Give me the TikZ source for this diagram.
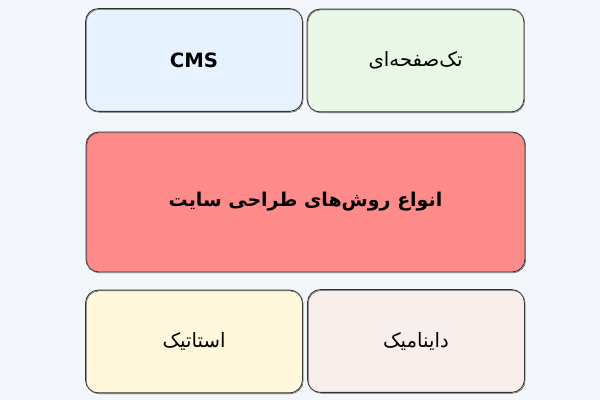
\documentclass[tikz,border=0pt]{standalone}
\usepackage{fontspec}
\setmainfont{DejaVu Sans}
\newfontfamily\arabicfont[Script=Arabic]{DejaVu Sans}
\TeXXeTstate=1
\usepackage{tikz}
\usetikzlibrary{positioning}
\definecolor{bgcol}{HTML}{F3F6FA}
\definecolor{cmscol}{HTML}{E6F2FF}
\definecolor{onecol}{HTML}{E9F8E6}
\definecolor{maincol}{HTML}{FF8A8A}
\definecolor{staticcol}{HTML}{FFF8DC}
\definecolor{dyncol}{HTML}{F8EFEC}
\definecolor{edgecol}{HTML}{2E2E2E}

\begin{document}
\begin{tikzpicture}[x=0.025cm, y=-0.025cm,
  card/.style = {draw=edgecol, line width=0.6pt, rounded corners=0.32cm,
    minimum width=5.42cm, minimum height=2.57cm, font=\fontsize{14}{17}\selectfont,
    postaction={draw=edgecol!75, line width=0.4pt, rounded corners=0.36cm,
      transform canvas={shift={(0.5pt,-0.6pt)}}}},
  bigcard/.style = {card, minimum width=10.97cm, minimum height=3.5cm,
    font=\fontsize{13.5}{16}\selectfont}]
        % background
        \fill[bgcol] (0,0) rectangle (600,400);
        \useasboundingbox (0,0) rectangle (600,400);
        % top row
        \node[card, fill=cmscol] at (194,60) (cms) {\bfseries CMS};
        \node[card, fill=onecol] at (415.5,60.5) (onepage) {\arabicfont\beginR تک‌صفحه‌ای\endR};
        % middle
        \node[bigcard, fill=maincol] at (305.5,202) (types) {\arabicfont\bfseries\beginR انواع روش‌های طراحی سایت\endR};
        % bottom row
        \node[card, fill=staticcol] at (194,341.5) (static) {\arabicfont\beginR استاتیک\endR};
        \node[card, fill=dyncol] at (416,341) (dynamic) {\arabicfont\beginR داینامیک\endR};
\end{tikzpicture}
\end{document}
